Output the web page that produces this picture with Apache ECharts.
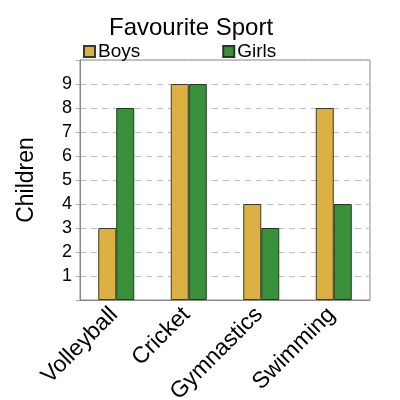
<!DOCTYPE html>
<html lang="en">
<head>
    <meta charset="UTF-8" />
    <title>Favourite Sport</title>
    <script src="https://cdn.jsdelivr.net/npm/echarts@6.0.0/dist/echarts.min.js"></script>
    <style>
        html, body { margin: 0; padding: 0; background: #fff; }
    </style>
</head>
<body>
    <div id="main" style="width: 400px; height: 400px;"></div>

    <script>
        const sports = ['Volleyball', 'Cricket', 'Gymnastics', 'Swimming'];
        const boys = [3, 9, 4, 8];
        const girls = [8, 9, 3, 4];

        const font = 'Liberation Sans, Arial, sans-serif';
        const myChart = echarts.init(document.getElementById('main'));

        const options = {
            animation: false,
            title: {
                text: 'Favourite Sport',
                left: 104,
                top: 11,
                textStyle: { fontFamily: font, fontSize: 24, fontWeight: 'normal', color: '#000' }
            },
            legend: {
                left: 78,
                top: 37,
                itemWidth: 11,
                itemHeight: 11,
                itemGap: 82,
                icon: 'rect',
                textStyle: { fontFamily: font, fontSize: 19, color: '#000', padding: [0, 0, 0, -2] }
            },
            grid: {
                left: 80, right: 30, top: 60, bottom: 100,
                outerBoundsMode: 'none',
                show: true, borderColor: '#888', borderWidth: 1
            },
            xAxis: {
                type: 'category',
                data: sports,
                axisLine: { lineStyle: { color: '#888' } },
                axisTick: { show: false },
                axisLabel: {
                    rotate: 45, margin: 9, interval: 0,
                    fontFamily: font, fontSize: 23, color: '#000',
                    padding: [0, 3, 0, 0]
                }
            },
            yAxis: {
                type: 'value',
                min: 0, max: 10, interval: 1,
                name: 'Children',
                nameLocation: 'middle',
                nameGap: 42,
                nameRotate: 90,
                nameTextStyle: { fontFamily: font, fontSize: 23, color: '#000' },
                axisLine: { show: true, lineStyle: { color: '#888' } },
                axisTick: { show: true, length: 4, lineStyle: { color: '#aaa' } },
                axisLabel: {
                    margin: 8, fontFamily: font, fontSize: 18, color: '#000',
                    formatter: v => (v === 0 || v === 10) ? '' : v
                },
                splitLine: { lineStyle: { color: '#bbb', type: [6, 5], width: 1.2 } }
            },
            series: [
                {
                    name: 'Boys', type: 'bar', data: boys,
                    barWidth: 18, barGap: '0%',
                    itemStyle: { color: '#DDB044', borderColor: '#3a3a2a', borderWidth: 1 }
                },
                {
                    name: 'Girls', type: 'bar', data: girls,
                    barWidth: 18,
                    itemStyle: { color: '#3A8F3A', borderColor: '#1f3a1f', borderWidth: 1 }
                }
            ]
        };

        myChart.setOption(options);
    </script>
</body>
</html>
